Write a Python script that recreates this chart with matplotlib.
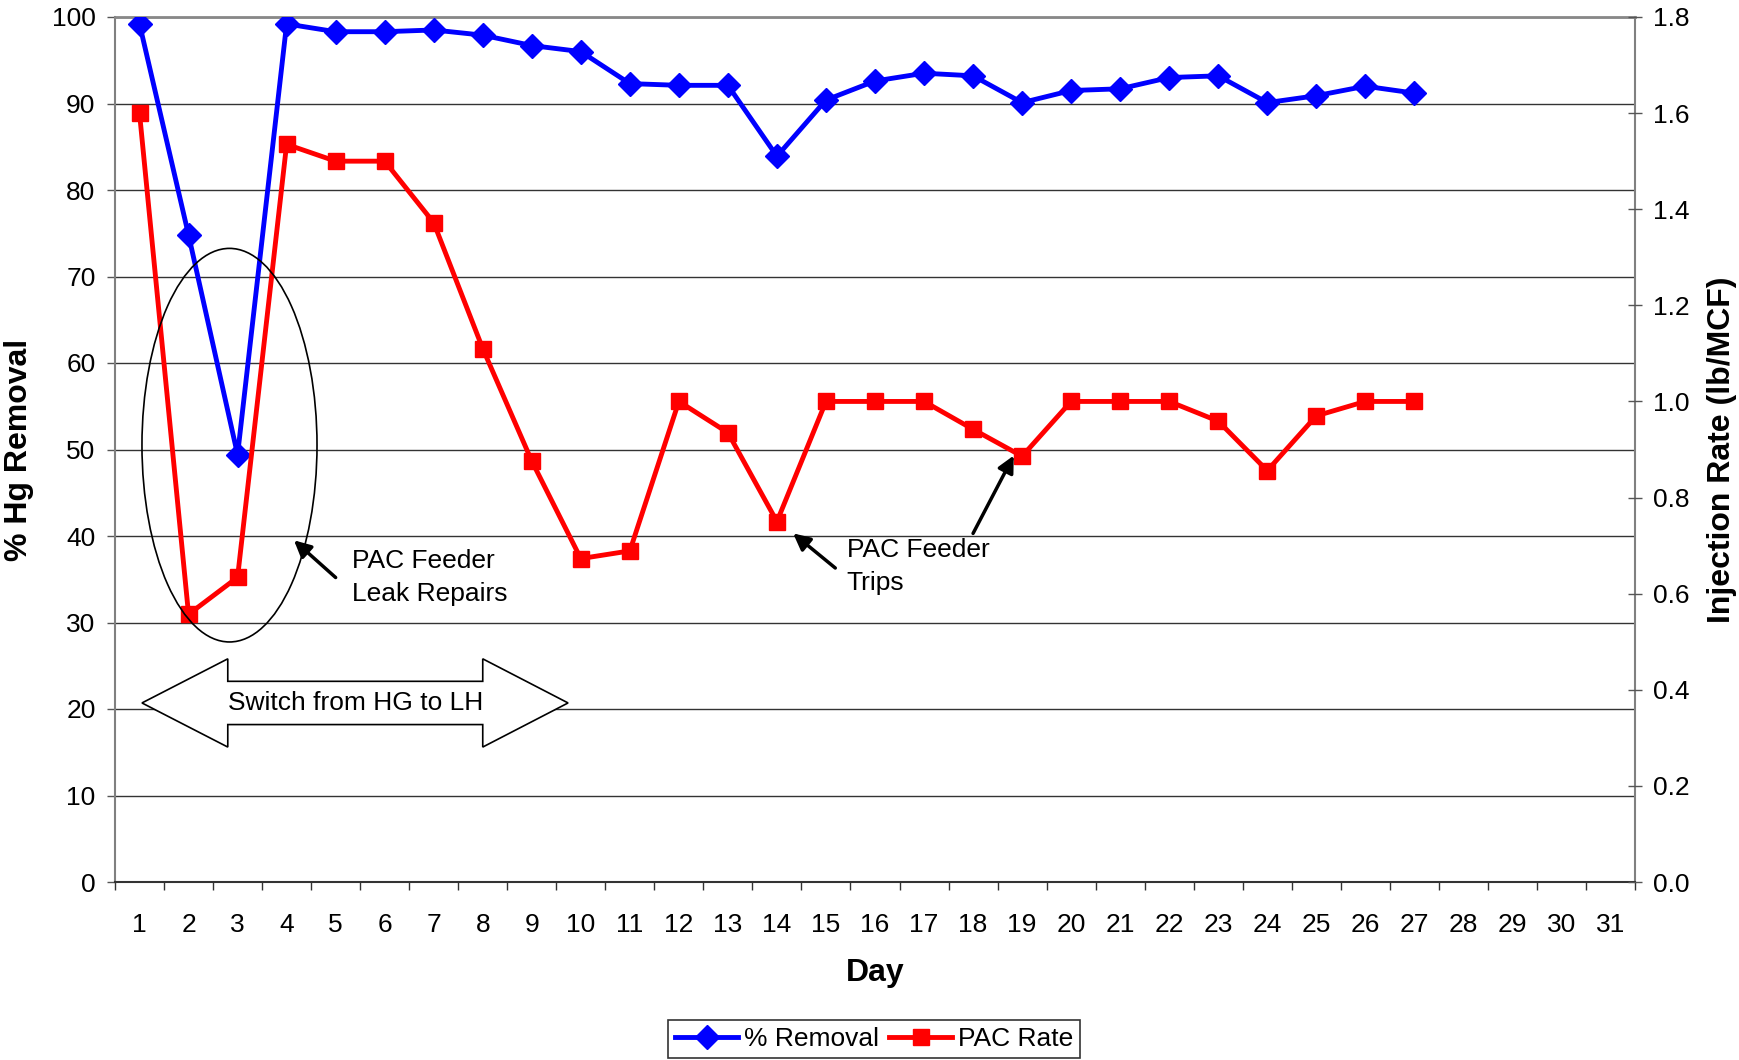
import matplotlib
matplotlib.use("Agg")
import matplotlib.pyplot as plt
from matplotlib.patches import Ellipse, Polygon
from matplotlib.ticker import FixedLocator, FormatStrFormatter

plt.rcParams['font.family'] = ['Liberation Sans', 'DejaVu Sans']

# ---- data ----
days = list(range(1, 28))
removal = [99.2, 74.8, 49.4, 99.2, 98.3, 98.3, 98.5, 97.9, 96.7, 96.0,
           92.3, 92.1, 92.1, 83.9, 90.4, 92.6, 93.5, 93.2, 90.1, 91.5,
           91.7, 93.0, 93.2, 90.1, 90.9, 92.0, 91.2]
pac_rate = [1.60, 0.557, 0.634, 1.535, 1.50, 1.50, 1.372, 1.11, 0.876, 0.673,
            0.689, 1.00, 0.935, 0.750, 1.00, 1.00, 1.00, 0.942, 0.886, 1.00,
            1.00, 1.00, 0.959, 0.856, 0.970, 1.00, 1.00]
day_labels = [str(d) for d in range(1, 32)]
left_ticks = list(range(0, 101, 10))
right_ticks = [0.0, 0.2, 0.4, 0.6, 0.8, 1.0, 1.2, 1.4, 1.6, 1.8]

W, H = 1739, 1060
fig = plt.figure(figsize=(W / 100, H / 100), dpi=100)
fig.patch.set_facecolor('white')
L, R, T, B = 115, 1635, 17, 882
ax = fig.add_axes([L / W, 1 - B / H, (R - L) / W, (B - T) / H])
ax2 = ax.twinx()

FS = 19
LFS = 23
# primary
ax.plot(days, removal, color='#0000FF', lw=3.5, marker='D', ms=12.5,
        label='% Removal', zorder=3)
ax.set_xlim(0.5, 31.5)
ax.set_ylim(0, 100)
ax.yaxis.set_major_locator(FixedLocator(left_ticks))
ax.yaxis.grid(True, color='#333333', lw=1.0)
ax.set_axisbelow(True)
ax.set_xticks(range(1, 32))
ax.set_xticklabels(day_labels)
ax.xaxis.set_minor_locator(FixedLocator([i + 0.5 for i in range(0, 32)]))
ax.tick_params(axis='x', which='major', length=0, pad=22, labelsize=FS)
ax.tick_params(axis='x', which='minor', length=6, width=1, direction='out',
               color='#333333')
ax.tick_params(axis='y', which='major', length=6, width=1, direction='out',
               pad=8, labelsize=FS, color='#555555')
for s in ['left', 'right']:
    ax.spines[s].set_color('#808080')
    ax.spines[s].set_linewidth(1.5)
ax.spines['top'].set_color('#888888')
ax.spines['top'].set_linewidth(2)
ax.spines['bottom'].set_color('#333333')
ax.spines['bottom'].set_linewidth(1.5)
ax.set_xlabel('Day', fontsize=LFS, fontweight='bold')
ax.xaxis.set_label_coords(0.5, -(958 - 882) / (B - T))
ax.set_ylabel('% Hg Removal', fontsize=LFS, fontweight='bold')
ax.yaxis.set_label_coords((34 - L) / (R - L), 0.5)

# secondary
ax2.plot(days, pac_rate, color='#FF0000', lw=3.5, marker='s', ms=12,
         label='PAC Rate', zorder=3)
ax2.set_ylim(0, 1.8)
ax2.yaxis.set_major_locator(FixedLocator(right_ticks))
ax2.yaxis.set_major_formatter(FormatStrFormatter('%.1f'))
ax2.tick_params(axis='y', length=10, width=1, direction='inout', pad=8,
                labelsize=FS, color='#555555')
for s in ['left', 'right', 'top', 'bottom']:
    ax2.spines[s].set_visible(False)
ax2.set_ylabel('Injection Rate (lb/MCF)', fontsize=LFS, fontweight='bold')
ax2.yaxis.set_label_coords((1707 - L) / (R - L), 0.5)

# ---- annotations (in primary data coords) ----
tr = ax.transData
ell = Ellipse((2.835, 50.5), 3.57, 45.5, transform=tr, fill=False,
              edgecolor='black', lw=1.2, zorder=5)
ax2.add_patch(ell)

arrow_pts = [(1.05, 20.7), (2.80, 25.8), (2.80, 23.2), (8.0, 23.2),
             (8.0, 25.8), (9.74, 20.7), (8.0, 15.6), (8.0, 18.2),
             (2.80, 18.2), (2.80, 15.6)]
ax2.add_patch(Polygon(arrow_pts, closed=True, transform=tr, facecolor='white',
                      edgecolor='black', lw=1.2, zorder=5))
ax2.text(5.4, 20.7, 'Switch from HG to LH', transform=tr, fontsize=FS,
         ha='center', va='center', zorder=6)

arrowprops = dict(arrowstyle='-|>,head_length=1.0,head_width=0.5',
                  color='black', lw=2.5, shrinkA=0, shrinkB=0)
ax2.annotate('', xy=(4.15, 39.5), xytext=(5.0, 35.2), xycoords=tr,
             textcoords=tr, arrowprops=arrowprops, zorder=6)
ax2.text(5.33, 35.2, 'PAC Feeder\nLeak Repairs', transform=tr, fontsize=FS,
         ha='left', va='center', linespacing=1.45, zorder=6)

ax2.annotate('', xy=(14.33, 40.3), xytext=(15.19, 36.3), xycoords=tr,
             textcoords=tr, arrowprops=arrowprops, zorder=6)
ax2.annotate('', xy=(18.83, 49.3), xytext=(18.0, 40.3), xycoords=tr,
             textcoords=tr, arrowprops=arrowprops, zorder=6)
ax2.text(15.42, 36.5, 'PAC Feeder\nTrips', transform=tr, fontsize=FS,
         ha='left', va='center', linespacing=1.45, zorder=6)

# ---- legend ----
h1, l1 = ax.get_legend_handles_labels()
h2, l2 = ax2.get_legend_handles_labels()
leg = fig.legend(h1 + h2, l1 + l2, loc='center',
                 bbox_to_anchor=(874 / W, 1 - 1039 / H), ncol=2, fontsize=FS,
                 frameon=True, fancybox=False, edgecolor='black',
                 handlelength=2.4, handletextpad=0.2, columnspacing=0.4,
                 borderpad=0.25, borderaxespad=0)
leg.get_frame().set_linewidth(1.2)

fig.savefig('out.png', dpi=100, facecolor='white')
